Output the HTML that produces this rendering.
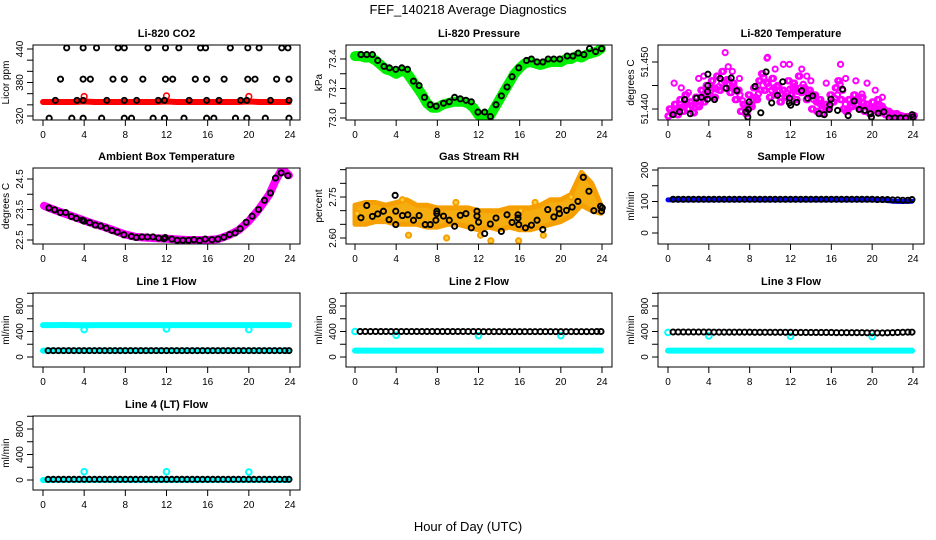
<!DOCTYPE html>
<html><head><meta charset="utf-8"><style>
html,body{margin:0;padding:0;background:#fff;}
svg{display:block;font-family:"Liberation Sans",Arial,sans-serif;}
</style></head><body>
<svg id="chart" width="936" height="540" viewBox="0 0 936 540" xmlns="http://www.w3.org/2000/svg">
<rect x="0" y="0" width="936" height="540" fill="#fff"/>
<text x="468" y="14" text-anchor="middle" font-size="13">FEF_140218  Average Diagnostics</text>
<text x="468" y="531" text-anchor="middle" font-size="13">Hour of Day (UTC)</text>
</svg>
<script>
// ---------- data ----------
const HOURS=[0,1,2,3,4,5,6,7,8,9,10,11,12,13,14,15,16,17,18,19,20,21,22,23,23.9];
const HALF=[0.5,1,1.5,2,2.5,3,3.5,4,4.5,5,5.5,6,6.5,7,7.5,8,8.5,9,9.5,10,10.5,11,11.5,12,12.5,13,13.5,14,14.5,15,15.5,16,16.5,17,17.5,18,18.5,19,19.5,20,20.5,21,21.5,22,22.5,23,23.5,23.9];
const X_TICKS=[0,4,8,12,16,20,24];

// CO2
const co2Red=[345,345,345,345,346,345,345,345,345,345,345,345,346,345,345,345,345,345,345,345,346,345,345,345,345];
const co2SpikeHours=[4,12,20];
const co2SpikeVals=[355,356,355];
const co2BlackHours=[2.3,3.9,5.2,7.3,7.9,10.2,11.9,13.2,15.3,15.8,18.2,19.9,21.0,23.2,23.8,
1.7,3.9,4.6,6.8,7.9,9.7,11.9,12.6,14.8,15.9,17.6,19.9,20.6,22.7,23.9,
1.2,3.3,3.9,6.2,7.9,9.1,11.2,11.8,14.2,15.9,17.1,19.2,19.8,22.1,23.9,
0.6,2.8,3.9,5.7,7.9,8.6,10.7,11.8,13.7,15.9,16.6,18.7,19.8,21.6,23.9];
const co2BlackVals=[442,442,442,442,442,442,442,442,442,442,442,442,442,442,442,
386,386,386,386,386,386,386,386,386,386,386,386,386,386,386,
348,348,348,348,348,348,348,348,348,348,348,348,348,348,348,
316,316,316,316,316,316,316,316,316,316,316,316,316,316,316];

// Pressure
const presGreenHours=[0,0.5,1,1.5,2,2.5,3,3.5,4,4.5,5,5.5,6,6.5,7,7.5,8,8.5,9,9.5,10,10.5,11,11.5,12,12.5,13,13.5,14,14.5,15,15.5,16,16.5,17,17.5,18,18.5,19,19.5,20,20.5,21,21.5,22,22.5,23,23.5,23.9];
const presGreen=[73.42,73.42,73.41,73.41,73.39,73.36,73.33,73.32,73.30,73.32,73.31,73.26,73.21,73.16,73.10,73.07,73.07,73.09,73.10,73.11,73.11,73.11,73.10,73.07,73.02,73.02,73.00,73.06,73.12,73.18,73.24,73.30,73.34,73.37,73.38,73.37,73.36,73.37,73.38,73.38,73.38,73.40,73.40,73.42,73.41,73.43,73.44,73.45,73.47];
const presBlackHours=[0.58,1.14,1.69,2.21,2.82,3.34,3.96,4.55,5.10,5.68,6.23,6.75,7.31,7.89,8.60,9.16,9.68,10.23,10.78,11.30,11.95,12.60,13.15,13.70,14.22,14.77,15.26,15.91,16.66,17.14,17.69,18.25,18.77,19.32,19.90,20.62,21.17,21.69,22.24,22.79,23.38,23.96];
const presBlack=[73.43,73.43,73.43,73.39,73.35,73.34,73.33,73.34,73.33,73.25,73.22,73.14,73.09,73.08,73.10,73.11,73.14,73.13,73.12,73.11,73.04,73.04,73.01,73.09,73.15,73.21,73.28,73.34,73.39,73.40,73.38,73.38,73.40,73.40,73.40,73.42,73.42,73.44,73.43,73.47,73.45,73.47];

// Li-820 temperature
const tempMagenta=[51.4385,51.4400,51.4390,51.4410,51.4388,51.4420,51.4395,51.4430,51.4400,51.4415,51.4392,51.4425,51.4405,
51.4440,51.4415,51.4450,51.4430,51.4460,51.4425,51.4470,51.4440,51.4480,51.4445,51.4462,51.4435,51.4455,
51.4420,51.4440,51.4395,51.4410,51.4390,
51.4430,51.4405,51.4445,51.4420,51.4460,51.4475,51.4440,51.4455,51.4425,51.4465,51.4430,51.4450,51.4415,51.4440,51.4425,51.4460,51.4430,51.4455,51.4420,51.4470,51.4435,51.4445,
51.4420,51.4440,51.4400,51.4430,51.4395,51.4420,51.4390,51.4410,51.4400,
51.4430,51.4415,51.4445,51.4460,51.4420,51.4400,
51.4395,51.4420,51.4405,51.4430,51.4410,51.4400,51.4425,51.4395,51.4410,51.4390,51.4415,51.4398,51.4420,51.4392,
51.4400,51.4388,51.4395,51.4385,51.4382,51.4390,51.4382,51.4385,51.4381,51.4384,51.4382,51.4386];
const tempOutHours=[0.6,3.0,3.5,4.2,5.6,5.9,6.3,9.7,9.75,10.5,11.3,11.9,13.1,13.6,14.0,16.9,17.4,18.4,19.5,20.3,21.0,7.0,2.0,15.5,1.3,8.8,12.4,19.0];
const tempOutVals=[51.4455,51.4465,51.4470,51.4450,51.4520,51.4490,51.4480,51.4508,51.4510,51.4485,51.4495,51.4495,51.4485,51.4470,51.4460,51.4495,51.4465,51.4460,51.4455,51.4440,51.4425,51.4465,51.4435,51.4455,51.4445,51.4450,51.4448,51.4432];
const tempBlackHours=[0.49,1.14,1.63,2.18,2.77,3.26,3.91,3.91,3.88,3.88,4.56,5.11,5.70,6.19,6.74,7.65,7.88,7.82,7.95,8.53,9.09,9.61,10.16,10.72,11.24,11.89,11.89,12.02,12.61,13.09,13.68,14.17,14.79,15.31,15.80,15.86,15.96,16.61,17.10,17.65,18.24,18.73,19.28,19.84,19.93,20.59,21.14,21.66,22.21,22.77,23.29,23.91,24.0];
const tempBlack=[51.4388,51.4394,51.4420,51.4390,51.4423,51.4425,51.4474,51.4450,51.4437,51.4421,51.4420,51.4465,51.4444,51.4466,51.4439,51.4394,51.4399,51.4383,51.4415,51.4448,51.4392,51.4479,51.4413,51.4429,51.4458,51.4423,51.4413,51.4408,51.4414,51.4439,51.4423,51.4428,51.4390,51.4388,51.4399,51.4409,51.4421,51.4397,51.4442,51.4386,51.4417,51.4399,51.4397,51.4390,51.4383,51.4391,51.4394,51.4381,51.4381,51.4381,51.4381,51.4388,51.4383];

// Ambient box temperature
const ambHours=[0.1,1,2,3,4,5,6,7,8,9,10,11,12,13,14,15,16,17,18,19,20,21,22,22.6,23.1,23.4,23.9];
const ambMagenta=[23.62,23.50,23.38,23.26,23.14,23.02,22.92,22.80,22.68,22.60,22.58,22.56,22.54,22.52,22.50,22.50,22.50,22.53,22.65,22.82,23.12,23.52,24.00,24.45,24.75,24.78,24.62];
const ambBlackHours=[0.58,1.13,1.68,2.20,2.75,3.24,3.82,3.98,4.53,5.08,5.60,6.15,6.70,7.22,7.86,8.58,9.06,9.61,10.13,10.68,11.23,11.75,11.88,12.52,13.04,13.59,14.14,14.66,15.21,15.76,16.41,16.99,17.57,18.12,18.67,19.16,19.74,20.32,20.94,21.52,22.10,22.59,23.14,23.79];
const ambBlack=[23.55,23.49,23.40,23.40,23.27,23.21,23.15,23.12,23.07,22.99,22.96,22.89,22.81,22.76,22.67,22.62,22.58,22.60,22.60,22.60,22.56,22.54,22.58,22.53,22.49,22.49,22.49,22.51,22.48,22.53,22.51,22.53,22.59,22.68,22.73,22.87,23.08,23.28,23.50,23.80,24.04,24.53,24.70,24.61];

// Gas stream RH
const rhHigh=[2.72,2.73,2.73,2.72,2.73,2.74,2.72,2.72,2.71,2.71,2.71,2.71,2.70,2.70,2.70,2.71,2.71,2.71,2.72,2.74,2.74,2.76,2.84,2.80,2.72];
const rhLow=[2.65,2.65,2.66,2.66,2.65,2.65,2.65,2.64,2.64,2.65,2.65,2.64,2.63,2.64,2.63,2.64,2.63,2.63,2.64,2.65,2.66,2.68,2.72,2.70,2.69];
const rhOutHours=[4.6,5.2,8.9,9.8,12.2,13.2,15.9,16.1,18.3,17.5,0.2,21.0];
const rhOutVals=[2.74,2.61,2.60,2.73,2.61,2.59,2.59,2.70,2.61,2.73,2.69,2.75];
const rhBlackHours=[0.58,1.14,1.69,2.21,2.76,3.31,3.90,3.96,3.96,4.61,5.13,5.68,6.23,6.82,7.31,7.86,7.95,7.95,8.60,9.16,9.68,10.23,10.78,11.30,11.85,11.85,12.01,12.60,13.15,13.70,14.22,14.77,15.26,15.84,15.84,15.91,16.56,17.14,17.69,18.25,18.73,19.32,19.81,19.87,20.55,21.10,21.66,22.18,22.73,23.21,23.86,23.96,24.03];
const rhBlack=[2.674,2.719,2.679,2.688,2.698,2.667,2.756,2.698,2.649,2.682,2.685,2.665,2.682,2.649,2.649,2.665,2.698,2.689,2.680,2.665,2.643,2.683,2.689,2.637,2.698,2.680,2.658,2.616,2.651,2.673,2.624,2.685,2.657,2.685,2.673,2.649,2.637,2.647,2.665,2.631,2.704,2.677,2.706,2.689,2.701,2.713,2.734,2.822,2.771,2.700,2.716,2.698,2.710];

// Sample flow
const sampleBlue=[105,105,105,105,105,105,105,105,105,105,105,105,105,105,105,105,105,105,105,105,105,105,101,100,101];
const sampleBlack=[107,107,107,107,107,107,107,107,
107,107,107,107,107,107,107,107,
107,107,107,107,107,107,107,107,
107,107,107,107,107,107,107,107,
107,107,107,107,107,107,107,107,
106,106,106,105,105,104,104,106];

// Line 1
const l1CyanHigh=[500,500,502,500,498,500,500,500,500,500,500,500,500,500,500,500,500,500,500,500,500,500,500,500,500];
const l1CyanLow=[100,100,100,100,100,100,100,100,100,100,100,100,100,100,100,100,100,100,100,100,100,100,100,100,100];
const l1DipHours=[4,12,20];
const l1DipVals=[430,440,430];
const l1Black=[100,100,100,100,100,100,100,100,
100,100,100,100,100,100,100,100,
100,100,100,100,100,100,100,100,
100,100,100,100,100,100,100,100,
100,100,100,100,100,100,100,100,
100,100,100,100,100,100,100,100];

// Line 2
const l2CyanLow=[100,100,100,100,100,100,100,100,100,100,100,100,100,100,100,100,100,100,100,100,100,100,100,100,100];
const l2DipHours=[0,4,12,20];
const l2DipVals=[400,340,335,335];
const l2Black=[400,400,400,400,400,400,400,400,
400,400,400,400,400,400,400,400,
400,400,400,400,400,400,400,400,
398,398,398,398,398,398,398,398,
398,398,398,398,398,398,398,398,
398,398,398,398,398,398,400,400];

// Line 3
const l3CyanLow=[100,100,100,100,100,100,100,100,100,100,100,100,100,100,100,100,100,100,100,100,100,100,100,100,100];
const l3DipHours=[0,4,12,20];
const l3DipVals=[385,330,325,320];
const l3Black=[392,392,392,392,392,392,392,392,
390,390,390,390,390,390,390,390,
388,388,388,388,388,388,388,388,
385,385,385,385,385,385,385,385,
382,382,382,382,382,382,380,380,
378,378,380,382,385,388,390,390];

// Line 4
const l4Cyan=[0,0,0,0,0,0,0,0,0,0,0,0,0,0,0,0,0,0,0,0,0,0,0,0,0];
const l4DipHours=[4,12,20];
const l4DipVals=[130,130,125];
const l4Black=[10,10,10,10,10,10,10,10,
10,10,10,10,10,10,10,10,
10,10,10,10,10,10,10,10,
10,10,10,10,10,10,10,10,
10,10,10,10,10,10,10,10,
10,10,10,10,10,10,10,10];

// ---------- drawing ----------
const NS='http://www.w3.org/2000/svg';
const svg=document.getElementById('chart');
const COL_X0=[43,355,668], COL_X24=[290,602,913], BOX_L=[33,346,658], BOX_R=[300,612,924];
const ROW_T=[45,168,293,416], ROW_B=[120,244,367,490];
const BR=2.6, BW=1.9;

function mk(tag,attrs,name,parent){
  const el=document.createElementNS(NS,tag);
  for(const k in attrs) el.setAttribute(k,attrs[k]);
  
  
  (parent||svg).appendChild(el);
  return el;
}

let clipId=0;
function panel(col,row,title,ylab,v1,p1,v2,p2,yTicks,key){
  const g=mk('g',{},key+'-panel');
  const x0=COL_X0[col],x24=COL_X24[col],L=BOX_L[col],R=BOX_R[col],T=ROW_T[row],B=ROW_B[row];
  const sx=h=>x0+h*(x24-x0)/24;
  const sy=v=>p1+(v-v1)*(p2-p1)/(v2-v1);
  const t=mk('text',{x:(L+R)/2,y:T-8,'text-anchor':'middle','font-size':11,'font-weight':'bold'},key+'-title',g);
  t.textContent=title;
  const yl=mk('text',{x:0,y:0,'text-anchor':'middle','font-size':10,transform:`translate(${L-24},${(T+B)/2}) rotate(-90)`},key+'-y-axis-title',g);
  yl.textContent=ylab;
  X_TICKS.forEach(h=>{
    mk('line',{x1:sx(h),x2:sx(h),y1:B,y2:B+6,stroke:'#000','stroke-width':1},key+'-x-tick',g);
    const tl=mk('text',{x:sx(h),y:B+18,'text-anchor':'middle','font-size':10},key+'-x-tick-label',g);
    tl.textContent=String(h);
  });
  mk('line',{x1:sx(0),x2:sx(24),y1:B,y2:B,stroke:'#000','stroke-width':1},key+'-x-axis',g);
  yTicks.forEach(v=>{
    mk('line',{x1:L-6,x2:L,y1:sy(v),y2:sy(v),stroke:'#000','stroke-width':1},key+'-y-tick',g);
  });
  clipId++;
  const cp=mk('clipPath',{id:'clip'+clipId},key+'-clip',g);
  mk('rect',{x:L,y:T,width:R-L,height:B-T},key+'-clip-rect',cp);
  const data=mk('g',{'clip-path':`url(#clip${clipId})`},key+'-data',g);
  mk('rect',{x:L,y:T,width:R-L,height:B-T,fill:'none',stroke:'#000','stroke-width':1},key+'-plot-box',g);
  return {sx,sy,g:data};
}
function line(P,hs,vs,color,w,name){
  const pts=hs.map((h,i)=>P.sx(h).toFixed(1)+','+P.sy(vs[i]).toFixed(1)).join(' ');
  mk('polyline',{points:pts,fill:'none',stroke:color,'stroke-width':w,'stroke-linejoin':'round','stroke-linecap':'round'},name,P.g);
}
function pts(P,hs,vs,color,r,sw,name,fill){
  hs.forEach((h,i)=>{
    mk('circle',{cx:P.sx(h),cy:P.sy(vs[i]),r:r,fill:fill||'none',stroke:color,'stroke-width':sw},name,P.g);
  });
}
function addYLabels(P,col,vals,strs,key){
  const L=BOX_L[col];
  vals.forEach((v,i)=>{
    const tl=mk('text',{x:0,y:0,'text-anchor':'middle','font-size':10,transform:`translate(${L-10},${P.sy(v)}) rotate(-90)`},key+'-y-tick-label');
    tl.textContent=strs[i];
  });
}

// CO2
(function(){
  const P=panel(0,0,'Li-820 CO2','Licor ppm',440,49,320,116,[320,340,360,380,400,420,440],'co2');
  line(P,HOURS,co2Red,'#ff0000',6,'co2-red-series');
  pts(P,co2SpikeHours,co2SpikeVals,'#ff0000',2.8,1.6,'co2-red-spike');
  pts(P,co2BlackHours,co2BlackVals,'#000',BR,BW,'co2-black-point');
  addYLabels(P,0,[320,380,440],['320','380','440'],'co2');
})();
// Pressure
(function(){
  const P=panel(1,0,'Li-820 Pressure','kPa',73.4,59,73.0,118,[73.0,73.1,73.2,73.3,73.4],'pressure');
  line(P,presGreenHours,presGreen,'#00ee00',10,'pressure-green-series');
  pts(P,presBlackHours,presBlack,'#000',BR,BW,'pressure-black-point');
  addYLabels(P,1,[73.0,73.2,73.4],['73.0','73.2','73.4'],'pressure');
})();
// Li-820 temperature
(function(){
  const P=panel(2,0,'Li-820 Temperature','degrees C',51.45,62,51.44,109,[51.440,51.445,51.450],'temp');
  const step=24/(tempMagenta.length-1);
  const th=tempMagenta.map((_,i)=>i*step);
  pts(P,th,tempMagenta,'#ff00ff',2.6,2.2,'temp-magenta-point');
  pts(P,th.map(h=>h+step/2),tempMagenta.map((v,i)=>tempMagenta[Math.min(i+1,tempMagenta.length-1)]),'#ff00ff',2.6,2.2,'temp-magenta-point');
  pts(P,th.map(h=>h+step/3),tempMagenta.map((v,i)=>(v+tempMagenta[Math.max(i-1,0)])/2),'#ff00ff',2.6,2.2,'temp-magenta-point');
  pts(P,tempOutHours,tempOutVals,'#ff00ff',2.6,2,'temp-magenta-outlier');
  pts(P,tempBlackHours,tempBlack,'#000',BR,BW,'temp-black-point');
  addYLabels(P,2,[51.44,51.45],['51.440','51.450'],'temp');
})();
// Ambient
(function(){
  const P=panel(0,1,'Ambient Box Temperature','degrees C',24.5,179,22.5,240,[22.5,23,23.5,24,24.5],'ambient');
  line(P,ambHours,ambMagenta,'#ff00ff',8,'ambient-magenta-series');
  pts(P,ambBlackHours,ambBlack,'#000',BR,BW,'ambient-black-point');
  addYLabels(P,0,[22.5,23.5,24.5],['22.5','23.5','24.5'],'ambient');
})();
// RH
(function(){
  const P=panel(1,1,'Gas Stream RH','percent',2.75,197,2.60,238,[2.60,2.65,2.70,2.75,2.80,2.85],'rh');
  const up=HOURS.map((h,i)=>P.sx(h).toFixed(1)+','+P.sy(rhHigh[i]).toFixed(1));
  const dn=HOURS.map((h,i)=>P.sx(h).toFixed(1)+','+P.sy(rhLow[i]).toFixed(1)).reverse();
  mk('polygon',{points:up.concat(dn).join(' '),fill:'#f5ad10',stroke:'#f5a000','stroke-width':5,'stroke-linejoin':'round'},'rh-orange-band',P.g);
  pts(P,rhOutHours,rhOutVals,'#f5a000',2.6,2,'rh-orange-outlier','#ffcc40');
  pts(P,rhBlackHours,rhBlack,'#000',BR,BW,'rh-black-point');
  addYLabels(P,1,[2.60,2.75],['2.60','2.75'],'rh');
})();
// Sample flow
(function(){
  const P=panel(2,1,'Sample Flow','ml/min',200,170,0,233,[0,50,100,150,200],'sample');
  line(P,HOURS,sampleBlue,'#0000ff',5,'sample-blue-series');
  pts(P,HALF,sampleBlack,'#000',BR,BW,'sample-black-point');
  addYLabels(P,2,[0,100,200],['0','100','200'],'sample');
})();
// Line flows
function flow(col,row,title,key,p800,p0,cyanSets,dipH,dipV,black){
  const P=panel(col,row,title,'ml/min',800,p800,0,p0,[0,200,400,600,800,1000],key);
  cyanSets.forEach(cs=>{
    line(P,HOURS,cs,'#00ffff',6,key+'-cyan-series');
  });
  pts(P,dipH,dipV,'#00ffff',2.8,2,key+'-cyan-outlier');
  pts(P,HALF,black,'#000',BR,BW,key+'-black-point');
  addYLabels(P,col,[0,400,800],['0','400','800'],key);
}
flow(0,2,'Line 1 Flow','line1',306,357,[l1CyanHigh,l1CyanLow],l1DipHours,l1DipVals,l1Black);
flow(1,2,'Line 2 Flow','line2',306,357,[l2CyanLow],l2DipHours,l2DipVals,l2Black);
flow(2,2,'Line 3 Flow','line3',306,357,[l3CyanLow],l3DipHours,l3DipVals,l3Black);
flow(0,3,'Line 4 (LT) Flow','line4',429,480,[l4Cyan],l4DipHours,l4DipVals,l4Black);
</script>
</body></html>
